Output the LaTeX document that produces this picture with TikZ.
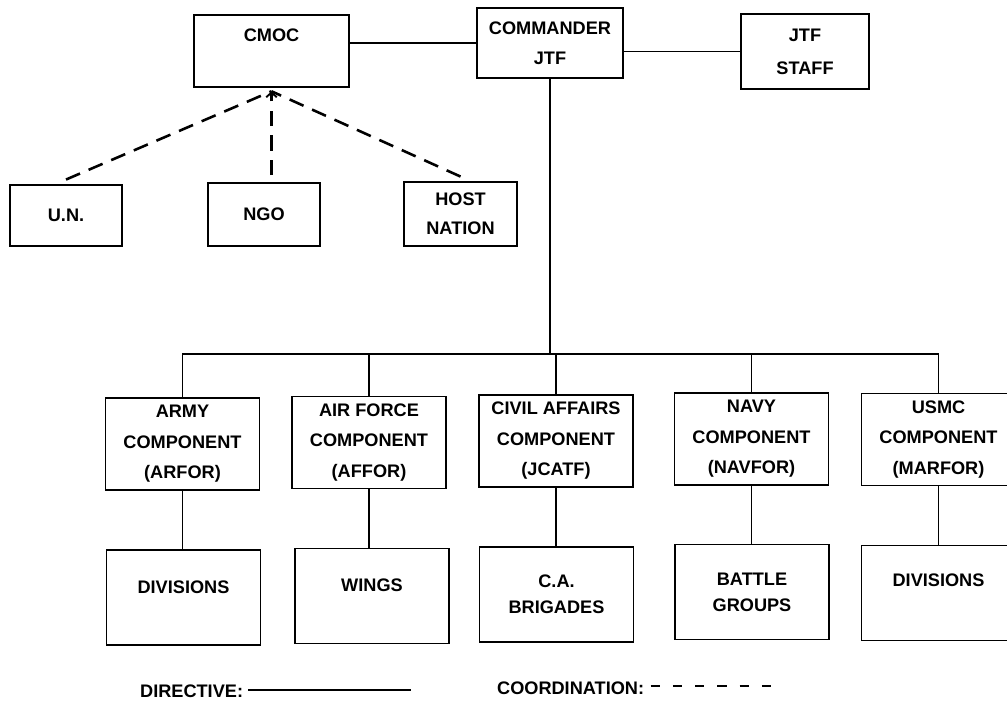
\documentclass[tikz,border=0pt]{standalone}
\usepackage{fontspec}
\setmainfont{Liberation Sans}
\usepackage{tikz}
\usetikzlibrary{arrows.meta}

\begin{document}
\begin{tikzpicture}[
    x=0.03cm, y=-0.03cm,
    every node/.style={font=\fontsize{15.5}{26}\selectfont\bfseries, align=center},
    box/.style={draw, line width=1.3pt, inner sep=2pt},
    comp/.style={box, minimum width=4.62cm, minimum height=2.76cm},
    unit/.style={box, minimum width=4.62cm, minimum height=2.85cm,
        font=\fontsize{15.5}{22}\selectfont\bfseries},
    lift/.style={text depth=#1},
    link/.style={draw, line width=1.4pt},
    coord/.style={draw, line width=2.2pt, dash pattern=on 13pt off 8pt},
    keycoord/.style={draw, line width=1.8pt, dash pattern=on 8pt off 11pt}
]
\useasboundingbox (0,0) rectangle (1007,702);

\node[box, minimum width=4.65cm, minimum height=2.16cm, lift=0.96cm]
    (cmoc)  at (271.5, 51)  {CMOC};
\node[box, minimum width=4.38cm, minimum height=2.1cm]
    (cmdr)  at (550, 43)    {COMMANDER\\JTF};
\node[box, minimum width=3.84cm, minimum height=2.25cm,
    font=\fontsize{15.5}{28}\selectfont\bfseries]
    (staff) at (805, 51.5)  {JTF\\STAFF};

\node[box, minimum width=3.36cm, minimum height=1.83cm]
    (un)    at (66, 215.5)  {U.N.};
\node[box, minimum width=3.36cm, minimum height=1.89cm]
    (ngo)   at (264, 214.5) {NGO};
\node[box, minimum width=3.39cm, minimum height=1.92cm,
    font=\fontsize{15.5}{24.5}\selectfont\bfseries]
    (host)  at (460.5, 214) {HOST\\NATION};

\node[comp] (army)  at (182.5, 444)  {ARMY\\COMPONENT\\(ARFOR)};
\node[comp] (airf)  at (369, 442.5)  {AIR FORCE\\COMPONENT\\(AFFOR)};
\node[comp] (civil) at (556, 441)    {CIVIL AFFAIRS\\COMPONENT\\(JCATF)};
\node[comp] (navy)  at (751.5, 439)  {NAVY\\COMPONENT\\(NAVFOR)};
\node[comp] (usmc)  at (938.5, 439.5) {USMC\\COMPONENT\\(MARFOR)};

\node[unit, lift=0.6cm]  (div1)   at (183.5, 597.5) {DIVISIONS};
\node[unit, lift=0.66cm] (wings)  at (372, 596)     {WINGS};
\node[unit]              (brig)   at (556.5, 594.5) {C.A.\\BRIGADES};
\node[unit]              (battle) at (752, 592)     {BATTLE\\GROUPS};
\node[unit, lift=0.78cm] (div2)   at (938.5, 593)   {DIVISIONS};

\draw[link] (cmdr.west -| cmoc.east) -- (cmdr.west);
\draw[link] (cmdr.east |- staff.west) -- (staff.west);

\coordinate (bus) at (556, 354);
\draw[link] (cmdr.south) -- (cmdr.south |- bus);
\draw[link] (army.north) |- (bus) -| (usmc.north);
\foreach \c in {airf, civil, navy}
    \draw[link] (\c.north) -- (\c.north |- bus);
\foreach \a/\b in {army/div1, airf/wings, civil/brig, navy/battle, usmc/div2}
    \draw[link] (\a.south) -- (\a.south |- \b.north);

\coordinate (meet) at ([yshift=-3pt]cmoc.south);
\draw[coord] ([yshift=4pt]un.north) -- (meet);
\draw[coord] ([yshift=4pt]host.north) -- (meet);
\draw[coord, -{Straight Barb[length=4pt, width=9pt, line width=1.6pt]}]
    ([yshift=6pt]meet |- ngo.north) -- (meet);

\node[anchor=west] (dirkey)   at (136, 691) {DIRECTIVE:};
\coordinate (dirend) at (411, 690);
\draw[link] ([xshift=1pt]dirkey.east |- dirend) -- (dirend);
\node[anchor=west] (coordkey) at (493, 688) {COORDINATION:};
\coordinate (coordend) at (777, 686);
\draw[keycoord] ([xshift=2pt]coordkey.east |- coordend) -- (coordend);
\end{tikzpicture}
\end{document}
